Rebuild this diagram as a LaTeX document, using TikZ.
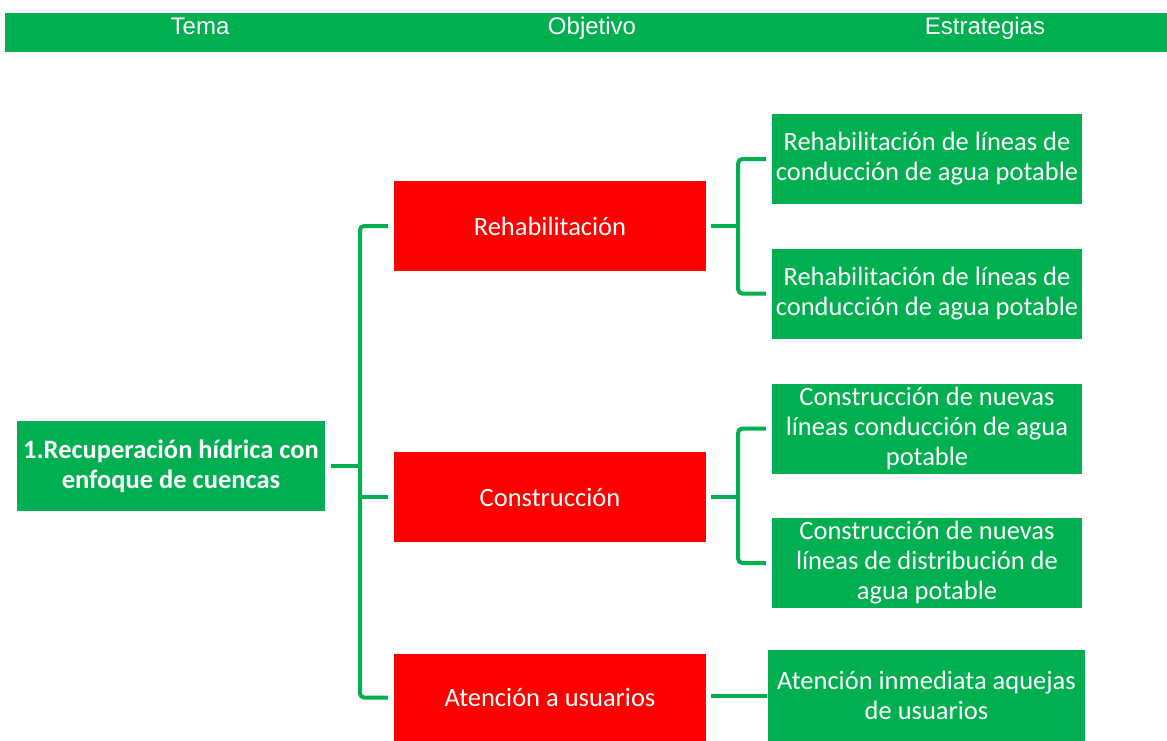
\documentclass[tikz,border=0pt]{standalone}
\usepackage{fontspec}
\setmainfont{Carlito}
\newfontfamily\headfont{Liberation Sans}
\usetikzlibrary{positioning,calc}
\definecolor{verde}{HTML}{00B050}
\definecolor{rojo}{HTML}{FF0000}

\begin{document}
\begin{tikzpicture}[x=1pt,y=-1pt,
    caja/.style={text=white,align=center,inner sep=0pt,font=\fontsize{26.5}{30}\selectfont},
    temabox/.style={caja,fill=verde,minimum width=308pt,minimum height=90pt,font=\bfseries\fontsize{26.5}{30}\selectfont},
    objbox/.style={caja,fill=rojo,minimum width=312pt,minimum height=90pt},
    estbox/.style={caja,fill=verde,minimum width=310pt,minimum height=90pt},
    titulo/.style={text=white,anchor=base,inner sep=0pt,font=\headfont\fontsize{24}{28}\selectfont},
    link/.style={draw=verde,line width=4pt}]
    \useasboundingbox (0,0) rectangle (1167,741);

    % Header
    \fill[verde] (5,13) rectangle (1167,52);
    \node[titulo] (hTema) at (200,35) {Tema};
    \node[titulo] (hObj) at (592,35) {Objetivo};
    \node[titulo] (hEst) at (985,35) {Estrategias};

    % Tema
    \node[temabox] (tema) at (171,466) {1.Recuperación hídrica con\\enfoque de cuencas};

    % Objetivos
    \node[objbox] (rehab) at (550,226) {Rehabilitación};
    \node[objbox] (constr) at (550,497) {Construcción};
    \node[objbox,minimum height=87pt] (atencion) at (550,697.5) {Atención a usuarios};

    % Estrategias
    \node[estbox] (e1) at (927,159) {Rehabilitación de líneas de\\conducción de agua potable};
    \node[estbox] (e2) at (927,293.5) {Rehabilitación de líneas de\\conducción de agua potable};
    \node[estbox] (e3) at (927,428.5) {Construcción de nuevas\\líneas conducción de agua\\potable};
    \node[estbox] (e4) at (927,563) {Construcción de nuevas\\líneas de distribución de\\agua potable};
    \node[estbox,minimum width=317pt,minimum height=91pt] (e5) at (926.5,695.5) {Atención inmediata aquejas\\de usuarios};

    % Conectores
    \coordinate (spine) at (360,466);
    \draw[link] ([xshift=6pt]tema.east) -- (spine);
    \draw[link,rounded corners=4pt] ([xshift=-6pt]rehab.west) -| (spine) |- ([xshift=-6pt]atencion.west);
    \draw[link] (spine |- constr.west) -- ([xshift=-6pt]constr.west);

    \draw[link] ([xshift=5pt]rehab.east) -- ([xshift=32pt]rehab.east);
    \draw[link,rounded corners=4pt] ([xshift=-6pt]e1.west) -| ([xshift=32pt]rehab.east) |- ([xshift=-6pt]e2.west);
    \draw[link] ([xshift=5pt]constr.east) -- ([xshift=32pt]constr.east);
    \draw[link,rounded corners=4pt] ([xshift=-6pt]e3.west) -| ([xshift=32pt]constr.east) |- ([xshift=-6pt]e4.west);
    \draw[link] ([xshift=5pt]atencion.east |- e5.west) -- ([xshift=-1pt]e5.west);
\end{tikzpicture}
\end{document}
